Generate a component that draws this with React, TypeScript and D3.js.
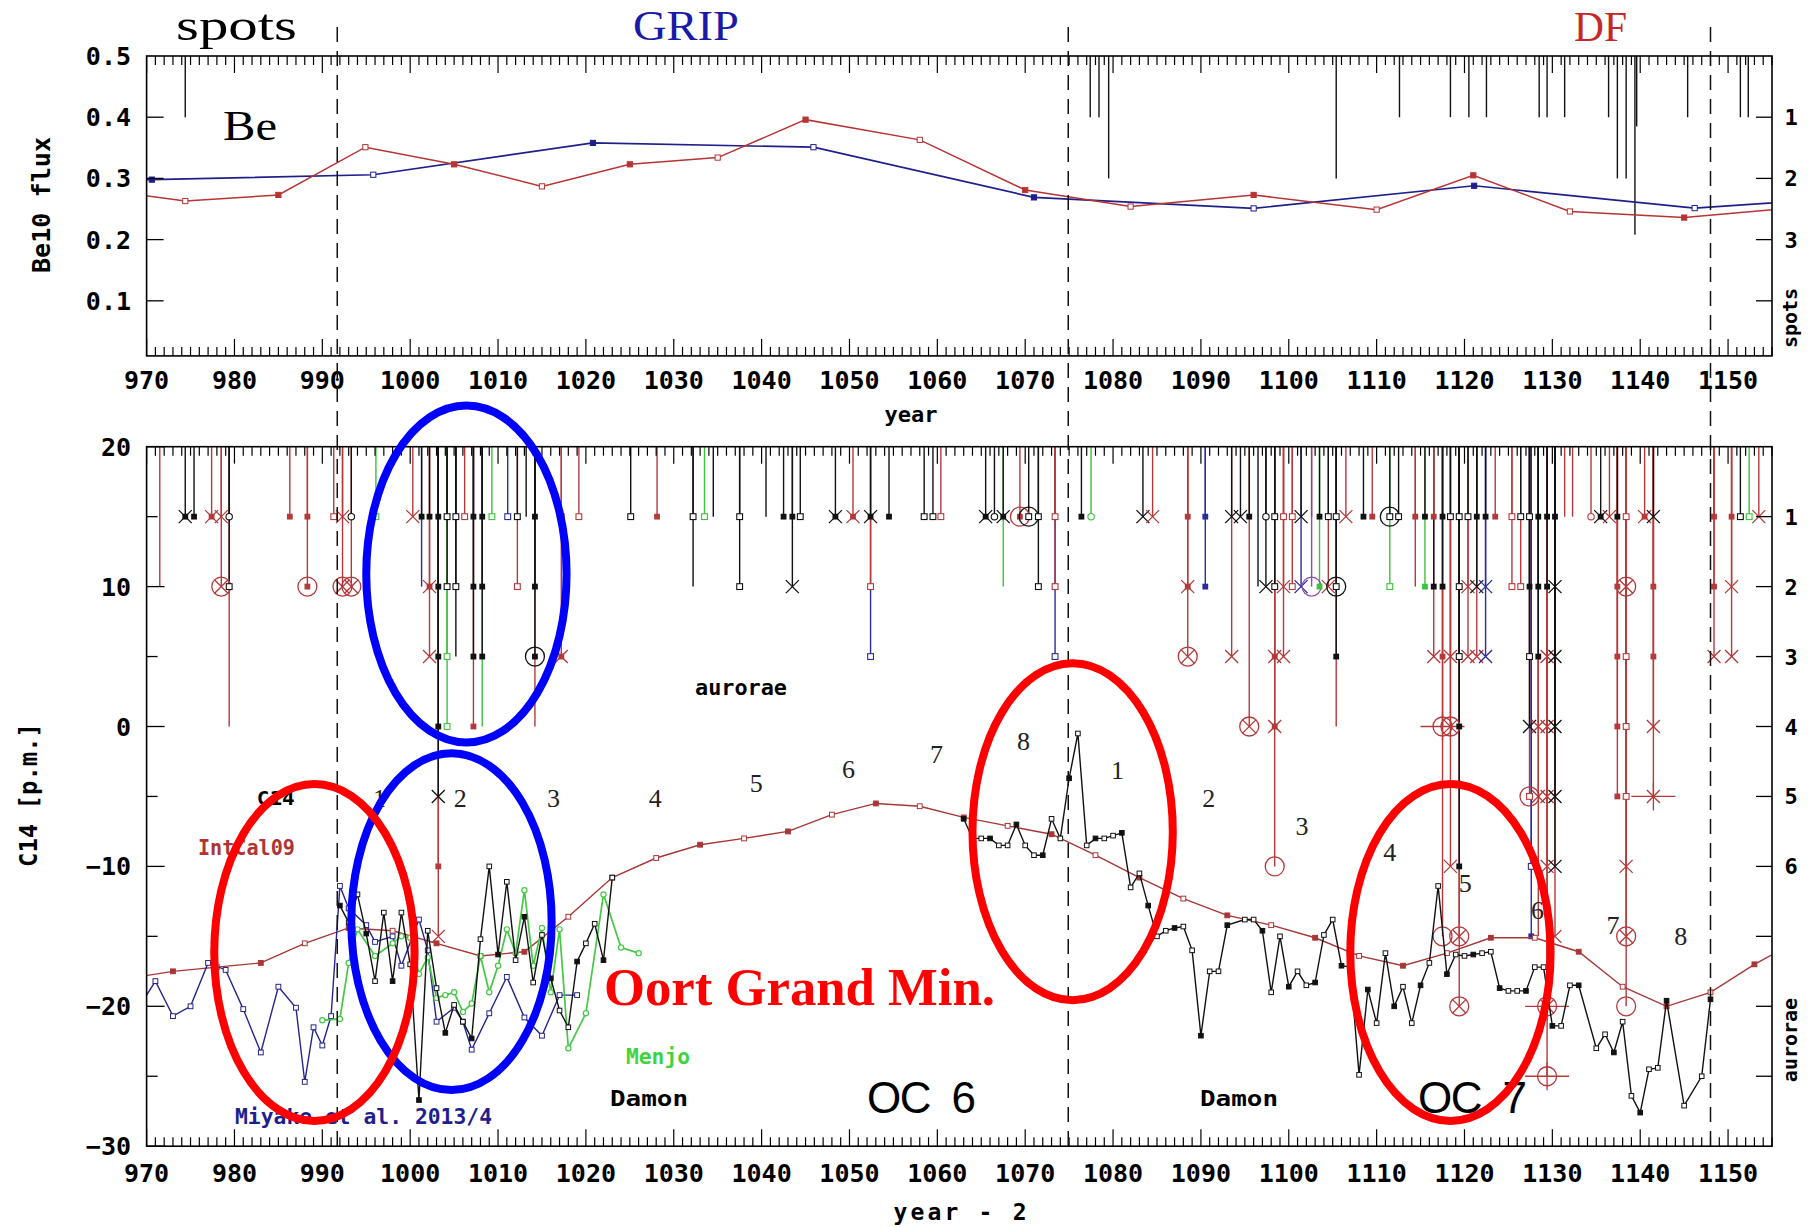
import React from 'react';
import * as d3 from 'd3';

// ---------------- axes ----------------
const yearDomain: [number, number] = [970, 1155];
const yearLabels = d3.range(970, 1151, 10);
const fluxTicks = [0.1, 0.2, 0.3, 0.4, 0.5];
const spotTicks = [1, 2, 3, 4];
const spotTickLabels = ['1', '2', '3', ''];
const c14Major = [20, 10, 0, -10, -20, -30];
const c14Minor = [15, 5, -5, -15, -25];
const auroraLevels = [1, 2, 3, 4, 5, 6, 7, 8, 9];
const auroraLevelLabels = ['1', '2', '3', '4', '5', '6', '', '', ''];

// ---------------- Be-10 flux ----------------
const gripYears = [945.3, 970.6, 995.8, 1020.8, 1045.9, 1071.0, 1096.0, 1121.1, 1146.2, 1171.3];
const gripFlux = [0.29, 0.298, 0.306, 0.358, 0.351, 0.269, 0.251, 0.288, 0.2515, 0.276];
const dfYears = [963.7, 974.4, 985.0, 994.9, 1005.0, 1015.0, 1025.0, 1035.0, 1045.0, 1058.0, 1070.0, 1082.0, 1096.0, 1110.0, 1121.0, 1132.0, 1145.0, 1157.0];
const dfFlux = [0.284, 0.263, 0.273, 0.351, 0.323, 0.287, 0.323, 0.334, 0.396, 0.363, 0.281, 0.254, 0.273, 0.249, 0.305, 0.246, 0.236, 0.2515];

// sunspot sightings (year, strength level)
const spotYears = [974.4, 1077.4, 1078.4, 1079.5, 1105.4, 1112.6, 1118.4, 1120.5, 1122.5, 1128.5, 1129.4, 1131.4, 1136.4, 1137.4, 1138.4, 1139.4, 1139.6, 1145.4, 1151.4, 1152.3];
const spotLevels = [1, 1, 1, 2, 2, 1, 1, 1, 1, 1, 1, 1, 1, 2, 2, 2.92, 1.15, 1, 1, 1];

// ---------------- C14 ----------------
const intcalYears = [968, 973, 978, 983, 988, 993, 998, 1003, 1008, 1013, 1018, 1023, 1028, 1033, 1038, 1043, 1048, 1053, 1058, 1063, 1068, 1073, 1078, 1083, 1088, 1093, 1098, 1103, 1108, 1113, 1118, 1123, 1128, 1133, 1138, 1143, 1148, 1153, 1158];
const intcal = [-18.0, -17.5, -17.2, -16.9, -15.5, -14.4, -14.6, -15.5, -16.4, -16.1, -13.6, -10.8, -9.4, -8.45, -8.0, -7.5, -6.3, -5.5, -5.7, -6.5, -7.1, -7.7, -9.2, -10.8, -12.3, -13.5, -14.2, -15.1, -16.4, -17.1, -16.2, -15.1, -15.1, -16.1, -18.6, -20.0, -19.0, -17.0, -15.3];

const miyakeYears = [969, 971, 973, 975, 977, 979, 981, 983, 985, 987, 988, 989, 990, 991, 992, 993, 995, 996, 998, 999, 1001, 1002, 1003, 1005, 1006, 1007, 1009, 1011, 1013, 1015, 1017, 1019];
const miyake = [-20.2, -18.2, -20.7, -20.0, -16.9, -17.4, -20.2, -23.3, -18.6, -20.1, -25.4, -21.5, -22.8, -20.7, -11.4, -13.0, -14.2, -15.4, -15.0, -17.1, -13.8, -16.0, -21.1, -20.1, -21.1, -23.1, -20.5, -17.9, -20.8, -22.1, -19.2, -19.2];

const menjoYears = [990, 992, 993, 994, 996, 998, 999, 1000, 1001, 1002, 1003, 1004, 1005, 1006, 1007, 1008, 1009, 1010, 1011, 1012, 1013, 1014, 1015, 1016, 1017, 1018, 1020, 1022, 1024, 1026];
const menjo = [-21.0, -20.9, -16.9, -14.5, -16.4, -15.5, -15.0, -15.1, -17.7, -16.5, -19.4, -19.2, -19.0, -20.4, -19.8, -16.4, -19.0, -17.1, -14.5, -16.2, -11.7, -17.1, -14.4, -19.0, -14.5, -23.0, -20.5, -12.0, -15.8, -16.2];

const damonYearsA = [992, 993, 994, 995, 996, 997, 998, 999, 1000, 1001, 1002, 1003, 1004, 1005, 1006, 1007, 1008, 1009, 1010, 1011, 1012, 1013, 1014, 1015, 1016, 1017, 1018, 1019, 1020, 1021, 1022, 1023];
const damonA = [-12.8, -14.0, -12.0, -14.8, -18.2, -13.3, -18.2, -13.3, -17.0, -26.7, -14.6, -18.7, -21.9, -19.9, -21.1, -22.3, -15.2, -10.0, -16.3, -11.1, -16.7, -13.6, -18.3, -14.9, -18.0, -20.3, -21.5, -16.8, -15.5, -14.1, -16.7, -10.8];
const damonYearsB = [1063, 1064, 1065, 1066, 1067, 1068, 1069, 1070, 1071, 1072, 1073, 1074, 1075, 1076, 1077, 1078, 1079, 1080, 1081, 1082, 1083, 1084, 1085, 1086, 1087, 1088, 1089, 1090, 1091, 1092, 1093, 1095, 1096, 1097, 1098, 1099, 1100, 1101, 1102, 1103, 1104, 1105, 1106, 1107, 1108, 1109, 1110, 1111, 1112, 1113, 1114, 1115, 1116, 1117, 1118, 1119, 1120, 1121, 1122, 1123, 1124, 1125, 1126, 1127, 1128, 1129, 1130, 1131, 1132, 1133, 1135, 1136, 1137, 1138, 1139, 1140, 1141, 1142, 1143, 1145, 1147, 1148];
const damonB = [-6.6, -8.0, -8.0, -8.0, -8.5, -8.5, -7.0, -8.5, -9.2, -9.2, -6.6, -8.0, -3.7, -0.5, -8.5, -8.0, -8.0, -7.8, -7.6, -11.5, -10.5, -12.8, -15.0, -14.6, -14.4, -14.3, -16.0, -22.1, -17.5, -17.5, -14.2, -13.8, -13.8, -14.6, -19.0, -15.0, -18.6, -17.5, -18.5, -18.3, -14.9, -13.8, -17.1, -17.2, -24.9, -18.8, -21.2, -16.2, -20.0, -18.6, -21.2, -18.5, -16.9, -11.4, -17.7, -16.3, -16.4, -16.3, -16.2, -16.1, -18.7, -18.9, -18.9, -18.9, -17.2, -17.2, -21.4, -21.4, -18.5, -18.5, -23.0, -22.0, -23.3, -21.1, -26.4, -27.6, -24.5, -24.4, -19.6, -27.1, -25.0, -19.5];

// ---------------- aurora reports: [year, level, colour, symbol] ----------------
const aurorae: [number, number, string, string][] = [
  [971.5, 2, 'r', 'none'], [974.4, 1, 'k', 'xs'], [975.4, 1, 'k', 'fs'], [977.4, 1, 'r', 'xs'],
  [978.5, 1, 'r', 'x'], [978.5, 2, 'r', 'cx'], [979.4, 1, 'k', 'oc'], [979.4, 2, 'k', 'os'], [979.4, 4, 'r', 'none'],
  [986.3, 1, 'r', 'fs'], [988.3, 1, 'r', 'fs'], [988.3, 2, 'r', 'cd'], [991.3, 1, 'r', 'os'],
  [992.3, 1, 'r', 'x'], [992.3, 2, 'r', 'cx'], [993.3, 1, 'k', 'oc'], [993.3, 2, 'r', 'cx'],
  [996.1, 1, 'g', 'os'], [1000.3, 1, 'r', 'x'], [1001.3, 1, 'k', 'fs'], [1001.3, 2, 'b', 'none'],
  [1002.2, 1, 'k', 'fs'], [1002.2, 2, 'r', 'xs'], [1002.2, 3, 'r', 'x'],
  [1003.2, 1, 'k', 'fs'], [1003.2, 2, 'k', 'fs'], [1003.2, 3, 'k', 'fs'], [1003.2, 4, 'k', 'fs'], [1003.2, 5, 'k', 'x'], [1003.2, 6, 'r', 'fs'], [1003.2, 7, 'r', 'x'],
  [1004.2, 1, 'k', 'os'], [1004.2, 2, 'k', 'os'], [1004.2, 3, 'g', 'os'], [1004.2, 4, 'g', 'os'],
  [1005.2, 1, 'k', 'os'], [1005.2, 2, 'k', 'os'], [1005.2, 3, 'k', 'none'], [1006.2, 1, 'r', 'os'],
  [1007.2, 1, 'k', 'fs'], [1007.2, 2, 'k', 'fs'], [1007.2, 3, 'k', 'fs'], [1007.2, 4, 'r', 'fs'],
  [1008.2, 1, 'k', 'fs'], [1008.2, 2, 'k', 'fs'], [1008.2, 3, 'k', 'fs'], [1008.2, 4, 'g', 'none'],
  [1009.3, 1, 'g', 'os'], [1011.1, 1, 'b', 'os'], [1012.2, 1, 'k', 'os'], [1012.2, 2, 'r', 'os'], [1013.2, 1, 'k', 'none'],
  [1014.2, 1, 'k', 'fs'], [1014.2, 2, 'k', 'fs'], [1014.2, 3, 'k', 'cd'], [1014.2, 4, 'r', 'none'],
  [1017.2, 1, 'r', 'os'], [1017.2, 3, 'r', 'xs'], [1019.2, 1, 'r', 'os'], [1025.1, 1, 'k', 'os'], [1028.1, 1, 'r', 'fs'],
  [1032.2, 1, 'k', 'os'], [1032.2, 2, 'k', 'none'], [1033.5, 1, 'g', 'os'], [1034.5, 1, 'k', 'none'],
  [1037.5, 1, 'k', 'os'], [1037.5, 2, 'k', 'os'], [1040.5, 1, 'k', 'none'], [1042.5, 1, 'k', 'fs'],
  [1043.5, 1, 'k', 'fs'], [1043.5, 2, 'k', 'x'], [1044.4, 1, 'k', 'os'], [1048.4, 1, 'k', 'xs'], [1050.4, 1, 'r', 'xs'],
  [1052.4, 1, 'k', 'xs'], [1052.4, 2, 'r', 'os'], [1052.4, 3, 'b', 'os'], [1054.5, 1, 'k', 'fs'],
  [1058.5, 1, 'k', 'os'], [1059.5, 1, 'k', 'os'], [1060.4, 1, 'r', 'os'],
  [1065.5, 1, 'k', 'xs'], [1066.5, 1, 'k', 'oc'], [1067.5, 1, 'k', 'xs'], [1067.5, 2, 'g', 'none'],
  [1069.4, 1, 'r', 'cd'], [1070.4, 1, 'k', 'co'], [1071.5, 1, 'k', 'os'], [1071.5, 2, 'k', 'os'],
  [1073.4, 1, 'r', 'os'], [1073.4, 2, 'r', 'os'], [1073.4, 3, 'b', 'os'], [1076.4, 1, 'k', 'fs'], [1077.5, 1, 'g', 'oc'],
  [1083.4, 1, 'k', 'x'], [1084.5, 1, 'r', 'x'], [1088.5, 1, 'r', 'fs'], [1088.5, 2, 'r', 'xs'], [1088.5, 3, 'r', 'cx'],
  [1090.5, 1, 'b', 'fs'], [1090.5, 2, 'b', 'fs'], [1093.5, 1, 'k', 'x'], [1093.5, 3, 'r', 'x'],
  [1094.5, 1, 'k', 'x'], [1095.5, 1, 'k', 'fs'], [1095.5, 4, 'r', 'cx'], [1096.5, 2, 'k', 'none'],
  [1097.4, 1, 'k', 'oc'], [1097.4, 2, 'k', 'x'],
  [1098.4, 1, 'k', 'os'], [1098.4, 2, 'k', 'os'], [1098.4, 3, 'r', 'xs'], [1098.4, 4, 'r', 'xs'], [1098.4, 6, 'r', 'c'],
  [1099.4, 1, 'r', 'os'], [1099.4, 2, 'r', 'x'], [1099.4, 3, 'r', 'x'], [1100.4, 1, 'r', 'os'], [1100.4, 2, 'r', 'os'],
  [1101.4, 1, 'k', 'x'], [1101.4, 2, 'b', 'x'], [1102.6, 1, 'r', 'none'], [1102.6, 2, 'm', 'c'],
  [1103.5, 1, 'k', 'fs'], [1103.5, 2, 'g', 'fs'], [1104.5, 1, 'k', 'os'], [1104.5, 2, 'r', 'x'],
  [1105.4, 1, 'k', 'os'], [1105.4, 2, 'k', 'co'], [1105.4, 3, 'k', 'fs'], [1105.4, 4, 'r', 'none'],
  [1106.5, 1, 'r', 'x'], [1108.5, 1, 'k', 'fs'], [1109.5, 1, 'r', 'fs'],
  [1111.5, 1, 'k', 'co'], [1111.5, 2, 'g', 'os'], [1112.5, 1, 'k', 'os'],
  [1114.4, 1, 'r', 'fs'], [1114.4, 2, 'r', 'none'], [1115.5, 1, 'k', 'fs'], [1115.5, 2, 'g', 'fs'],
  [1116.5, 1, 'r', 'fs'], [1116.5, 2, 'k', 'fs'], [1116.5, 3, 'r', 'x'],
  [1117.5, 1, 'k', 'fs'], [1117.5, 2, 'k', 'fs'], [1117.5, 3, 'r', 'fs'], [1117.5, 4, 'r', 'pc'], [1117.5, 7, 'r', 'c'],
  [1118.4, 1, 'k', 'os'], [1118.4, 3, 'r', 'x'], [1118.4, 4, 'r', 'cx'], [1118.4, 6, 'r', 'x'],
  [1119.4, 1, 'k', 'os'], [1119.4, 2, 'k', 'os'], [1119.4, 3, 'k', 'os'], [1119.4, 4, 'k', 'fs'], [1119.4, 6, 'k', 'fs'], [1119.4, 7, 'r', 'cx'], [1119.4, 8, 'r', 'cx'],
  [1120.4, 1, 'k', 'os'], [1120.4, 2, 'r', 'x'], [1120.4, 3, 'r', 'x'],
  [1121.4, 1, 'k', 'fs'], [1121.4, 2, 'k', 'x'], [1121.4, 3, 'r', 'x'],
  [1122.4, 1, 'k', 'fs'], [1122.4, 2, 'b', 'x'], [1122.4, 3, 'b', 'x'], [1123.5, 1, 'r', 'fs'],
  [1125.4, 1, 'r', 'os'], [1125.4, 2, 'r', 'os'], [1126.4, 1, 'k', 'os'], [1126.4, 2, 'r', 'os'],
  [1127.4, 1, 'k', 'os'], [1127.4, 2, 'k', 'fs'], [1127.4, 3, 'k', 'os'], [1127.4, 4, 'k', 'x'], [1127.4, 5, 'r', 'co'], [1127.6, 6, 'b', 'os'], [1127.6, 7, 'b', 'fs'],
  [1128.4, 1, 'k', 'fs'], [1128.4, 2, 'k', 'fs'], [1128.4, 3, 'k', 'fs'], [1128.4, 4, 'r', 'x'], [1128.4, 5, 'r', 'x'], [1128.4, 7, 'r', 'none'],
  [1129.4, 1, 'k', 'fs'], [1129.4, 2, 'k', 'fs'], [1129.4, 3, 'r', 'x'], [1129.4, 4, 'r', 'x'], [1129.4, 5, 'r', 'x'], [1129.4, 6, 'r', 'x'], [1129.4, 8, 'r', 'pcx'], [1129.4, 9, 'r', 'pc'],
  [1130.3, 1, 'k', 'fs'], [1130.3, 2, 'k', 'x'], [1130.3, 3, 'k', 'x'], [1130.3, 4, 'k', 'x'], [1130.3, 5, 'k', 'x'], [1130.3, 6, 'k', 'x'], [1130.3, 7, 'r', 'x'],
  [1131.4, 1, 'r', 'none'], [1132.3, 1, 'r', 'none'], [1134.4, 1, 'r', 'oc'], [1135.5, 1, 'k', 'xs'], [1136.5, 1, 'r', 'x'],
  [1137.4, 1, 'k', 'fs'], [1137.4, 2, 'r', 'fs'], [1137.4, 3, 'r', 'fs'], [1137.4, 4, 'r', 'fs'], [1137.4, 5, 'r', 'fs'],
  [1138.4, 1, 'r', 'os'], [1138.4, 2, 'r', 'cx'], [1138.4, 3, 'r', 'os'], [1138.4, 4, 'r', 'os'], [1138.4, 5, 'r', 'os'], [1138.4, 6, 'r', 'x'], [1138.4, 7, 'r', 'cx'], [1138.4, 8, 'r', 'c'],
  [1140.5, 1, 'r', 'xs'], [1141.5, 1, 'k', 'x'], [1141.5, 2, 'r', 'fs'], [1141.5, 3, 'r', 'fs'], [1141.5, 4, 'r', 'x'], [1141.5, 5, 'r', 'px'],
  [1148.4, 1, 'r', 'fs'], [1148.4, 2, 'r', 'fs'], [1148.4, 3, 'r', 'x'],
  [1150.4, 1, 'r', 'fs'], [1150.4, 2, 'r', 'x'], [1150.4, 3, 'r', 'x'],
  [1151.4, 1, 'k', 'os'], [1152.4, 1, 'g', 'os'], [1153.5, 1, 'r', 'x'],
];

// solar cycle numbering
const cycleLabels = ['1', '2', '3', '4', '5', '6', '7', '8', '1', '2', '3', '4', '5', '6', '7', '8'];
const cycleYears = [996.5, 1005.7, 1016.3, 1027.9, 1039.4, 1049.9, 1059.9, 1069.8, 1080.5, 1090.9, 1101.5, 1111.5, 1120.1, 1128.3, 1136.9, 1144.6];
const cycleValues = [-5.1, -5.1, -5.1, -5.1, -4.05, -3.05, -2.0, -1.07, -3.14, -5.1, -7.1, -9.0, -11.2, -13.1, -14.2, -15.0];

// boundaries of the Oort minimum interval
const boundaryYears = [991.7, 1074.9, 1148.0];

// highlighted intervals (centre year, centre p.m.)
const ringYears = [1006.4, 1004.7, 989.1, 1075.4, 1118.4];
const ringValues = [10.9, -13.95, -16.15, -7.52, -16.15];
const ringColors = ['#0000ff', '#0000ff', '#ff0000', '#ff0000', '#ff0000'];
const ringHalfYears = 11.4;
const ringHalfPm = 12.04;

const COL: Record<string, string> = { k: '#111111', r: '#b5393b', g: '#3cc23c', b: '#2b2b9e', m: '#8a4fb0' };
const MONO = "'DejaVu Sans Mono', monospace";
const SERIF = "'Liberation Serif', 'DejaVu Serif', serif";

function Marker({ cx, cy, kind, color }: { cx: number; cy: number; kind: string; color: string }) {
  const s = 2.9, h = 6.5, R = 9.5;
  const sw = 1.3;
  const cross = (k: number) => (
    <path d={`M${cx - k},${cy - k}L${cx + k},${cy + k}M${cx - k},${cy + k}L${cx + k},${cy - k}`} stroke={color} strokeWidth={sw} fill="none" />
  );
  const fsq = <rect x={cx - s} y={cy - s} width={2 * s} height={2 * s} fill={color} />;
  const osq = <rect x={cx - s} y={cy - s} width={2 * s} height={2 * s} fill="#fff" stroke={color} strokeWidth={1.1} />;
  const ring = <circle cx={cx} cy={cy} r={R} fill="none" stroke={color} strokeWidth={1.3} />;
  const bars = (
    <path d={`M${cx - 22},${cy}L${cx + 22},${cy}M${cx},${cy - 14}L${cx},${cy + 14}`} stroke={color} strokeWidth={1.3} />
  );
  switch (kind) {
    case 'fs': return fsq;
    case 'os': return osq;
    case 'oc': return <circle cx={cx} cy={cy} r={3.2} fill="#fff" stroke={color} strokeWidth={1.1} />;
    case 'x': return cross(h);
    case 'xs': return <g>{cross(h)}{fsq}</g>;
    case 'cx': return <g>{ring}{cross(R * 0.7)}</g>;
    case 'cd': return <g>{ring}{fsq}</g>;
    case 'co': return <g>{ring}{osq}</g>;
    case 'c': return ring;
    case 'pc': return <g>{ring}{bars}</g>;
    case 'pcx': return <g>{ring}{cross(R * 0.7)}{bars}</g>;
    case 'px': return <g>{cross(h)}{bars}</g>;
    default: return null;
  }
}

export default function App() {
  const x = d3.scaleLinear().domain(yearDomain).range([146.6, 1772]);
  const yF = d3.scaleLinear().domain([0.01, 0.5]).range([355.9, 56]);
  const yS = d3.scaleLinear().domain([0, 4]).range([yF(0.5), yF(0.1)]);
  const yC = d3.scaleLinear().domain([-30, 20]).range([1146.2, 446.7]);
  const levelValue = (n: number) => 20 - 5 * n;

  const X0 = x(970), X1 = x(1155);
  const tT = yF(0.5), tB = yF(0.01);
  const bT = yC(20), bB = yC(-30);

  const lineF = d3.line<[number, number]>().x(d => x(d[0])).y(d => yF(d[1]));
  const lineC = d3.line<[number, number]>().x(d => x(d[0])).y(d => yC(d[1]));
  const inDomain = (yr: number) => yr >= 970 && yr <= 1155;

  const grip = d3.zip(gripYears, gripFlux) as [number, number][];
  const df = d3.zip(dfYears, dfFlux) as [number, number][];
  const ic = d3.zip(intcalYears, intcal) as [number, number][];
  const my = d3.zip(miyakeYears, miyake) as [number, number][];
  const mj = d3.zip(menjoYears, menjo) as [number, number][];
  const dA = d3.zip(damonYearsA, damonA) as [number, number][];
  const dB = d3.zip(damonYearsB, damonB) as [number, number][];

  const allYears = d3.range(970, 1156, 1);

  const yearTicks = (yEdge: number, dir: number) =>
    allYears.map(yr => {
      const L = yr % 10 === 0 ? 17 : 9;
      return <line key={`t${yEdge}-${yr}`} x1={x(yr)} x2={x(yr)} y1={yEdge} y2={yEdge + dir * L} stroke="#000" strokeWidth={1.2} />;
    });

  const sq = (cx: number, cy: number, color: string, filled: boolean, k: string, size = 2.4) => (
    <rect key={k} x={cx - size} y={cy - size} width={2 * size} height={2 * size} fill={filled ? color : '#fff'} stroke={color} strokeWidth={1} />
  );

  // long reports first so that short ones overlay their upper parts
  const auroraSorted = [...aurorae].sort((a, b) => b[1] - a[1]);

  return (
    <svg width={1810} height={1227} viewBox="0 0 1810 1227" style={{ position: 'absolute', left: 0, top: 0, background: '#fff' }}>
      <defs>
        <clipPath id="clipTop"><rect x={X0} y={tT} width={X1 - X0} height={tB - tT} /></clipPath>
        <clipPath id="clipBot"><rect x={X0} y={bT} width={X1 - X0} height={bB - bT} /></clipPath>
      </defs>
      <rect x={0} y={0} width={1810} height={1227} fill="#fff" />

      {/* ---------- upper panel: Be-10 flux and sunspots ---------- */}
      <text x={176} y={40} fontFamily={SERIF} fontSize={44} textLength={121} lengthAdjust="spacingAndGlyphs">spots</text>
      <text x={633} y={40} fontFamily={SERIF} fontSize={42} fill="#1a1aa6" textLength={106} lengthAdjust="spacingAndGlyphs">GRIP</text>
      <text x={1574} y={41} fontFamily={SERIF} fontSize={42} fill="#c62828" textLength={53} lengthAdjust="spacingAndGlyphs">DF</text>
      <text x={223} y={140} fontFamily={SERIF} fontSize={42} textLength={54} lengthAdjust="spacingAndGlyphs">Be</text>

      {spotYears.map((yr, i) => (
        <line key={`sp${i}`} x1={x(yr)} x2={x(yr)} y1={tT} y2={yS(spotLevels[i])} stroke="#111" strokeWidth={1.4} />
      ))}

      <g clipPath="url(#clipTop)">
        <path d={lineF(grip) ?? ''} fill="none" stroke="#1f1f8c" strokeWidth={1.7} />
        <path d={lineF(df) ?? ''} fill="none" stroke="#b83434" strokeWidth={1.5} />
        {grip.filter(d => inDomain(d[0])).map((d, i) => sq(x(d[0]), yF(d[1]), '#1f1f8c', i % 2 === 0, `g${i}`, 2.6))}
        {df.filter(d => inDomain(d[0])).map((d, i) => sq(x(d[0]), yF(d[1]), '#b83434', i % 2 === 1, `d${i}`, 2.6))}
      </g>

      <rect x={X0} y={tT} width={X1 - X0} height={tB - tT} fill="none" stroke="#000" strokeWidth={1.6} />
      {yearTicks(tT, 1)}
      {yearTicks(tB, -1)}
      {fluxTicks.slice(0, 4).map(v => (
        <line key={`fl${v}`} x1={X0} x2={X0 + 17} y1={yF(v)} y2={yF(v)} stroke="#000" strokeWidth={1.3} />
      ))}
      {fluxTicks.map(v => (
        <text key={`flt${v}`} x={131} y={yF(v) + 9} textAnchor="end" fontFamily={MONO} fontWeight="bold" fontSize={25}>{v.toFixed(1)}</text>
      ))}
      {spotTicks.map((lv, i) => (
        <g key={`st${lv}`}>
          <line x1={X1 - 16} x2={X1} y1={yS(lv)} y2={yS(lv)} stroke="#000" strokeWidth={1.3} />
          <text x={1791} y={yS(lv) + 8} textAnchor="middle" fontFamily={MONO} fontWeight="bold" fontSize={22}>{spotTickLabels[i]}</text>
        </g>
      ))}
      <text transform={`translate(1797,318) rotate(-90)`} textAnchor="middle" fontFamily={MONO} fontWeight="bold" fontSize={20}>spots</text>
      <text transform={`translate(50,205) rotate(-90)`} textAnchor="middle" fontFamily={MONO} fontWeight="bold" fontSize={25} textLength={136} lengthAdjust="spacingAndGlyphs">Be10 flux</text>
      {yearLabels.map(yr => (
        <text key={`ytl${yr}`} x={x(yr)} y={389} textAnchor="middle" fontFamily={MONO} fontWeight="bold" fontSize={25}>{yr}</text>
      ))}
      <text x={911} y={422} textAnchor="middle" fontFamily={MONO} fontWeight="bold" fontSize={22}>year</text>

      {/* ---------- lower panel: C14 and aurorae ---------- */}
      {auroraSorted.map((a, i) => (
        <line key={`al${i}`} x1={x(a[0])} x2={x(a[0])} y1={bT} y2={yC(levelValue(a[1]))} stroke={COL[a[2]]} strokeWidth={1.4} />
      ))}
      {aurorae.map((a, i) => (
        <Marker key={`am${i}`} cx={x(a[0])} cy={yC(levelValue(a[1]))} kind={a[3]} color={COL[a[2]]} />
      ))}

      <g clipPath="url(#clipBot)">
        <path d={lineC(ic) ?? ''} fill="none" stroke="#a83636" strokeWidth={1.4} />
        {ic.filter(d => inDomain(d[0])).map((d, i) => sq(x(d[0]), yC(d[1]), '#a83636', i % 2 === 0, `ic${i}`, 2.4))}
        <path d={lineC(my) ?? ''} fill="none" stroke="#25258f" strokeWidth={1.4} />
        {my.filter(d => inDomain(d[0])).map((d, i) => sq(x(d[0]), yC(d[1]), '#25258f', false, `my${i}`, 2.4))}
        <path d={lineC(mj) ?? ''} fill="none" stroke="#45c845" strokeWidth={1.7} />
        {mj.map((d, i) => (
          <circle key={`mj${i}`} cx={x(d[0])} cy={yC(d[1])} r={2.6} fill="#fff" stroke="#45c845" strokeWidth={1.2} />
        ))}
        <path d={lineC(dA) ?? ''} fill="none" stroke="#111" strokeWidth={1.4} />
        <path d={lineC(dB) ?? ''} fill="none" stroke="#111" strokeWidth={1.4} />
        {dA.map((d, i) => sq(x(d[0]), yC(d[1]), '#111', i % 3 === 0, `da${i}`, 2.3))}
        {dB.map((d, i) => sq(x(d[0]), yC(d[1]), '#111', i % 3 === 0, `db${i}`, 2.3))}
      </g>

      <rect x={X0} y={bT} width={X1 - X0} height={bB - bT} fill="none" stroke="#000" strokeWidth={1.6} />
      {yearTicks(bT, 1)}
      {yearTicks(bB, -1)}
      {c14Major.map(v => (
        <g key={`cm${v}`}>
          <line x1={X0} x2={X0 + 18} y1={yC(v)} y2={yC(v)} stroke="#000" strokeWidth={1.3} />
          <text x={131} y={yC(v) + 9} textAnchor="end" fontFamily={MONO} fontWeight="bold" fontSize={25}>{v < 0 ? `\u2212${-v}` : `${v}`}</text>
        </g>
      ))}
      {c14Minor.map(v => (
        <line key={`cn${v}`} x1={X0} x2={X0 + 11} y1={yC(v)} y2={yC(v)} stroke="#000" strokeWidth={1.3} />
      ))}
      {auroraLevels.map((lv, i) => (
        <g key={`al-${lv}`}>
          <line x1={X1 - 16} x2={X1} y1={yC(levelValue(lv))} y2={yC(levelValue(lv))} stroke="#000" strokeWidth={1.3} />
          <text x={1791} y={yC(levelValue(lv)) + 8} textAnchor="middle" fontFamily={MONO} fontWeight="bold" fontSize={22}>{auroraLevelLabels[i]}</text>
        </g>
      ))}
      <text transform={`translate(1797,1040) rotate(-90)`} textAnchor="middle" fontFamily={MONO} fontWeight="bold" fontSize={20}>aurorae</text>
      <text transform={`translate(37,795) rotate(-90)`} textAnchor="middle" fontFamily={MONO} fontWeight="bold" fontSize={24} textLength={144} lengthAdjust="spacingAndGlyphs">C14 [p.m.]</text>
      {yearLabels.map(yr => (
        <text key={`ybl${yr}`} x={x(yr)} y={1182} textAnchor="middle" fontFamily={MONO} fontWeight="bold" fontSize={25}>{yr}</text>
      ))}
      <text x={960} y={1220} textAnchor="middle" fontFamily={MONO} fontWeight="bold" fontSize={23} textLength={133} lengthAdjust="spacing" style={{ whiteSpace: 'pre' }}>year - 2</text>

      {/* in-panel labels */}
      <text x={695} y={695} fontFamily={MONO} fontWeight="bold" fontSize={22} textLength={92} lengthAdjust="spacingAndGlyphs">aurorae</text>
      <text x={x(984.7)} y={yC(-5.1) + 7} textAnchor="middle" fontFamily={MONO} fontWeight="bold" fontSize={20} textLength={38} lengthAdjust="spacingAndGlyphs">C14</text>
      {cycleLabels.map((c, i) => (
        <text key={`cy${i}`} x={x(cycleYears[i])} y={yC(cycleValues[i]) + 9} textAnchor="middle" fontFamily={SERIF} fontSize={26} fill="#222">{c}</text>
      ))}
      <text x={198} y={855} fontFamily={MONO} fontWeight="bold" fontSize={21} fill="#b03434" textLength={97} lengthAdjust="spacingAndGlyphs">IntCal09</text>
      <text x={235} y={1124} fontFamily={MONO} fontWeight="bold" fontSize={22} fill="#1e1e90" textLength={257} lengthAdjust="spacingAndGlyphs">Miyake et al. 2013/4</text>
      <text x={626} y={1064} fontFamily={MONO} fontWeight="bold" fontSize={22} fill="#3fd43f" textLength={64} lengthAdjust="spacingAndGlyphs">Menjo</text>
      <text x={610} y={1106} fontFamily={MONO} fontWeight="bold" fontSize={22} textLength={78} lengthAdjust="spacingAndGlyphs">Damon</text>
      <text x={1200} y={1106} fontFamily={MONO} fontWeight="bold" fontSize={22} textLength={78} lengthAdjust="spacingAndGlyphs">Damon</text>
      <text x={867} y={1113} fontFamily="'Liberation Sans', sans-serif" fontSize={44} textLength={109} lengthAdjust="spacing" style={{ whiteSpace: 'pre' }}>OC  6</text>
      <text x={1418} y={1113} fontFamily="'Liberation Sans', sans-serif" fontSize={44} textLength={109} lengthAdjust="spacing" style={{ whiteSpace: 'pre' }}>OC  7</text>

      {/* interval boundaries */}
      {boundaryYears.map(yr => (
        <line key={`bd${yr}`} x1={x(yr)} x2={x(yr)} y1={27} y2={1150} stroke="#111" strokeWidth={1.5} strokeDasharray="15,9" />
      ))}

      {/* highlighted intervals */}
      {ringYears.map((yr, i) => (
        <ellipse key={`rg${i}`} cx={x(yr)} cy={yC(ringValues[i])}
          rx={x(yr + ringHalfYears) - x(yr)} ry={yC(ringValues[i] - ringHalfPm) - yC(ringValues[i])}
          fill="none" stroke={ringColors[i]} strokeWidth={8} />
      ))}
      <text x={604} y={1005} fontFamily="'Liberation Serif', serif" fontWeight="bold" fontSize={53} fill="#ff0000" textLength={391} lengthAdjust="spacingAndGlyphs">Oort Grand Min.</text>
    </svg>
  );
}
